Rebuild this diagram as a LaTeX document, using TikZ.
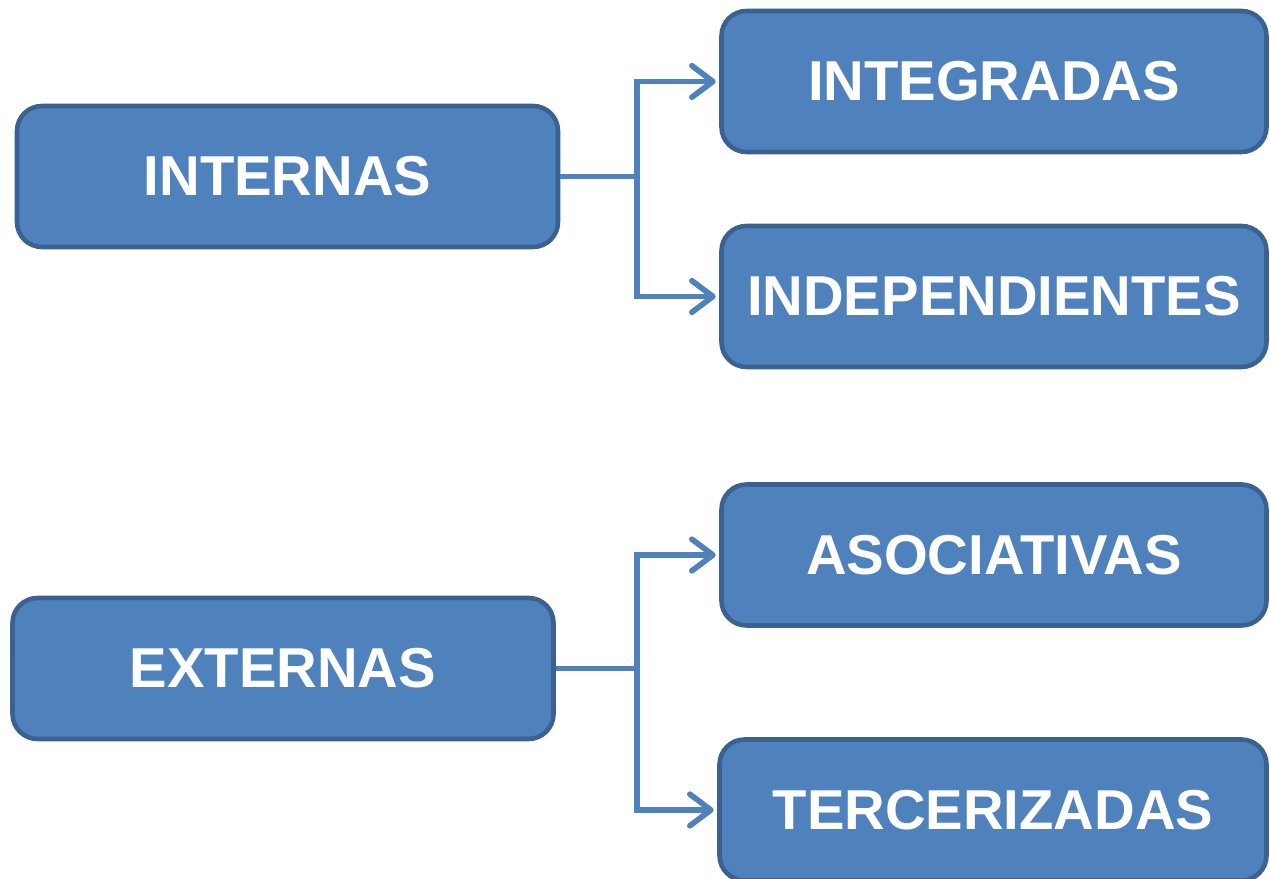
\documentclass[tikz,border=0pt]{standalone}
\usepackage{fontspec}
\setmainfont{Liberation Sans}
\usepackage{tikz}
\usetikzlibrary{arrows.meta, calc}

\definecolor{boxblue}{HTML}{4F81BD}
\definecolor{boxedge}{HTML}{3A6190}

\begin{document}
\begin{tikzpicture}[box/.style={draw=boxedge, fill=boxblue, line width=2.6pt, rounded corners=0.5cm, minimum width=10.82cm, minimum height=2.82cm, text=white, font=\fontsize{32}{38}\selectfont\bfseries}, conn/.style={draw=boxblue, line width=3.2pt}, >={Straight Barb[length=12pt, width=18pt, line cap=round, line join=round]}]

\useasboundingbox (0,0) rectangle (25.4,17.58);

\node(internas)[box] at (5.75,14.05){INTERNAS};
\node(externas)[box] at (5.66,4.21){EXTERNAS};

\node(integ)[box, minimum width=10.9cm] at (19.88,15.95){INTEGRADAS};
\node(indep)[box, minimum width=10.9cm] at (19.88,11.65){INDEPENDIENTES};
\node(asoc)[box, minimum width=10.9cm] at (19.88,6.48){ASOCIATIVAS};
\node(terc)[box, minimum width=10.94cm] at (19.86,1.38){TERCERIZADAS};

\coordinate (fork1) at ($(internas.east -| 12.74,0)$);
\coordinate (fork2) at ($(externas.east -| 12.74,0)$);

\draw[conn] (internas.east) -- (fork1);
\draw[conn, ->] (fork1) |- ($(integ.west) - (0.07,0)$);
\draw[conn, ->] (fork1) |- ($(indep.west) - (0.07,0)$);

\draw[conn] (externas.east) -- (fork2);
\draw[conn, ->] (fork2) |- ($(asoc.west) - (0.07,0)$);
\draw[conn, ->] (fork2) |- ($(terc.west) - (0.07,0)$);
\end{tikzpicture}
\end{document}
